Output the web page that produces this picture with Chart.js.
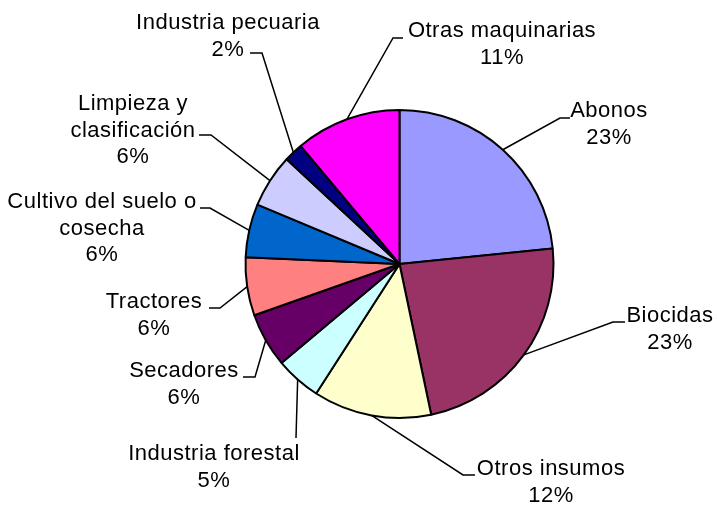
<!DOCTYPE html>
<html>
<head>
<meta charset="utf-8">
<script src="https://cdn.jsdelivr.net/npm/chart.js@4.4.0/dist/chart.umd.min.js"></script>
<style>
    html, body { margin: 0; padding: 0; background: #fff; }
    #grafico { display: block; }
</style>
</head>
<body>
<canvas id="grafico" width="717" height="508"></canvas>
<script>
// --- Datos ---
const categorias = ['Abonos', 'Biocidas', 'Otros insumos', 'Industria forestal', 'Secadores',
    'Tractores', ['Cultivo del suelo o', 'cosecha'], ['Limpieza y', 'clasificación'],
    'Industria pecuaria', 'Otras maquinarias'];
const valores = [23.4, 23.3, 12.4, 4.8, 5.7, 6.1, 5.6, 5.6, 2.0, 11.1];
const colores = ['#9999FF', '#993366', '#FFFFCC', '#CCFFFF', '#660066',
    '#FF8080', '#0066CC', '#CCCCFF', '#000080', '#FF00FF'];

// Posición de cada etiqueta: centro x del texto, línea base de la 1a línea,
// codo de la línea guía (ex, ey) y final del tramo horizontal (hx)
const posEtiquetas = [
    { x: 609, y: 117, ex: 560, ey: 118, hx: 570 },
    { x: 670, y: 322, ex: 613, ey: 322, hx: 625 },
    { x: 551, y: 475, ex: 463, ey: 475, hx: 475 },
    { x: 214, y: 460, ex: 296, ey: 438, hx: 296 },
    { x: 184, y: 377, ex: 255, ey: 377, hx: 243 },
    { x: 154, y: 308, ex: 220, ey: 308, hx: 209 },
    { x: 102, y: 208, ex: 210, ey: 208, hx: 200 },
    { x: 133, y: 110, ex: 211, ey: 135, hx: 199 },
    { x: 228, y: 29, ex: 262, ey: 53, hx: 250 },
    { x: 502, y: 37, ex: 393, ey: 38, hx: 403 }
];

const total = valores.reduce((a, b) => a + b, 0);

const etiquetasPlugin = {
    id: 'etiquetas',
    afterDatasetsDraw(chart) {
        const ctx = chart.ctx;
        const arcos = chart.getDatasetMeta(0).data;
        ctx.save();
        ctx.strokeStyle = '#000';
        ctx.lineWidth = 1.5;
        ctx.fillStyle = '#000';
        ctx.font = '22px "Liberation Sans", Arial, sans-serif';
        ctx.letterSpacing = '0.5px';
        ctx.textAlign = 'center';
        ctx.textBaseline = 'alphabetic';

        arcos.forEach((arco, i) => {
            const p = posEtiquetas[i];
            const { x, y, startAngle, endAngle, outerRadius } = arco.getProps(['x', 'y', 'startAngle', 'endAngle', 'outerRadius'], true);
            const medio = (startAngle + endAngle) / 2;
            const px = x + Math.cos(medio) * outerRadius;
            const py = y + Math.sin(medio) * outerRadius;

            ctx.beginPath();
            ctx.moveTo(px, py);
            ctx.lineTo(p.ex, p.ey);
            ctx.lineTo(p.hx, p.ey);
            ctx.stroke();

            const nombre = categorias[i];
            const lineas = Array.isArray(nombre) ? nombre.slice() : [nombre];
            lineas.push(Math.round(valores[i] / total * 100) + '%');
            lineas.forEach((t, j) => {
                ctx.fillText(t, p.x, p.y + j * 26.5);
            });
        });
        ctx.restore();
    }
};

new Chart(document.getElementById('grafico').getContext('2d'), {
    type: 'pie',
    data: {
        labels: categorias,
        datasets: [{
            data: valores,
            backgroundColor: colores,
            borderColor: '#000',
            borderWidth: 2
        }]
    },
    options: {
        responsive: false,
        animation: false,
        radius: 154,
        layout: { padding: { top: 110, bottom: 90, left: 245, right: 163 } },
        plugins: {
            legend: { display: false },
            tooltip: { enabled: false }
        }
    },
    plugins: [etiquetasPlugin]
});
</script>
</body>
</html>
